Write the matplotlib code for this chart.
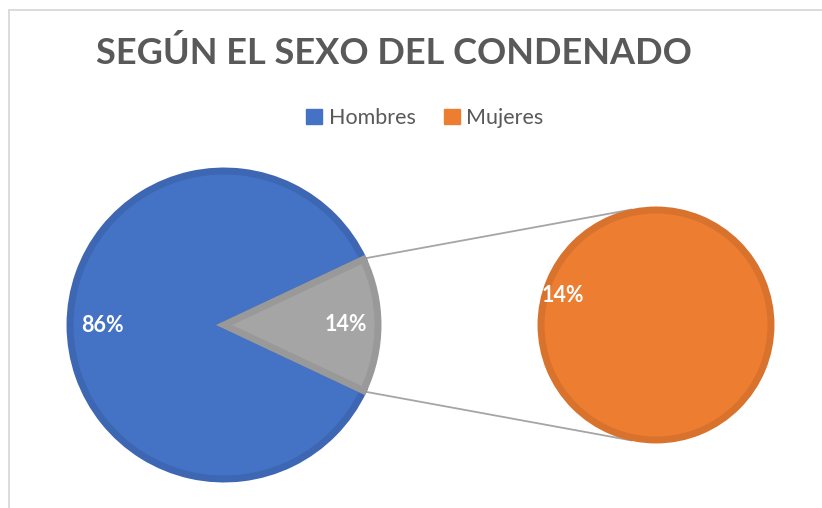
import numpy as np
import matplotlib.pyplot as plt
from matplotlib.patches import Patch

plt.rcParams['font.family'] = ['Lato', 'DejaVu Sans']

# data
labels = ['Hombres', 'Mujeres']
values = [86, 14]
colors = ['#4472C4', '#ED7D31']
edge_colors = ['#3D66B3', '#D8722D']
gray = '#A5A5A5'
gray_edge = '#999999'

W, H = 822, 508
dpi = 100
fig = plt.figure(figsize=(W / dpi, H / dpi), dpi=dpi)
ax = fig.add_axes([0, 0, 1, 1])

# left pie: the small slice sits on the right, centred on 0 degrees
c1 = (224, H - 325)
r1 = 154
frac = values[1] / sum(values)
start = 180 * frac
wedges1, _, auto1 = ax.pie(values, colors=[colors[0], gray], center=c1, radius=r1,
                           startangle=start, autopct='%1.0f%%', pctdistance=0.79,
                           wedgeprops=dict(linewidth=5),
                           textprops=dict(color='white', fontsize=15.5, fontweight='bold'),
                           frame=True)
wedges1[0].set_edgecolor(edge_colors[0])
wedges1[1].set_edgecolor(gray_edge)

# right pie: breakdown of the small slice
c2 = (656, H - 325)
r2 = 115
wedges2, _, auto2 = ax.pie([values[1]], colors=[colors[1]], center=c2, radius=r2,
                           startangle=-17.7, autopct=lambda p: '%d%%' % values[1],
                           pctdistance=0.85,
                           wedgeprops=dict(linewidth=5, edgecolor=edge_colors[1]),
                           textprops=dict(color='white', fontsize=15.5, fontweight='bold'),
                           frame=True)

ax.set_xlim(0, W)
ax.set_ylim(0, H)
ax.axis('off')

# connector lines
half = np.deg2rad(start)
rr = r1 + 3
for s in (1, -1):
    x0 = c1[0] + rr * np.cos(half)
    y0 = c1[1] + s * rr * np.sin(half)
    a = np.deg2rad(102 if s == 1 else 258)
    x1 = c2[0] + (r2 + 3) * np.cos(a)
    y1 = c2[1] + (r2 + 3) * np.sin(a)
    ax.plot([x0, x1], [y0, y1], color=gray, lw=1.3, zorder=0)

# chart border (top and left only visible)
ax.plot([8.5, W], [H - 9.5, H - 9.5], color='#D9D9D9', lw=1.3)
ax.plot([8.5, 8.5], [0, H - 9.5], color='#D9D9D9', lw=1.3)

fig.text(394 / W, 1 - 53 / H, 'SEGÚN EL SEXO DEL CONDENADO', ha='center', va='center',
         fontsize=26, fontweight='bold', color='#595959')

handles = [Patch(facecolor=c, edgecolor=c) for c in colors]
fig.legend(handles, labels, loc='center', bbox_to_anchor=(425 / W, 1 - 118 / H),
           ncol=2, frameon=False, fontsize=15.5, labelcolor='#595959',
           handlelength=0.75, handleheight=0.75, handletextpad=0.3, columnspacing=1.3)

fig.savefig('out.png', dpi=dpi)
